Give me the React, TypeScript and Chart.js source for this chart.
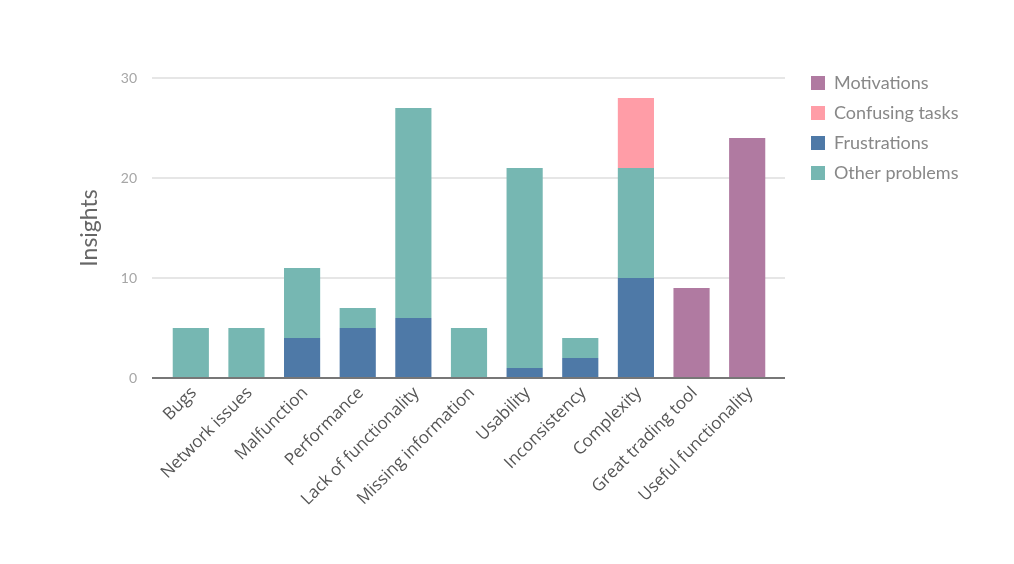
import React, { useEffect, useRef } from "react";
import { Chart, registerables } from "chart.js";

Chart.register(...registerables);

const categories = [
  "Bugs",
  "Network issues",
  "Malfunction",
  "Performance",
  "Lack of functionality",
  "Missing information",
  "Usability",
  "Inconsistency",
  "Complexity",
  "Great trading tool",
  "Useful functionality",
];

const frustrations = [0, 0, 4, 5, 6, 0, 1, 2, 10, 0, 0];
const otherProblems = [5, 5, 7, 2, 21, 5, 20, 2, 11, 0, 0];
const confusingTasks = [0, 0, 0, 0, 0, 0, 0, 0, 7, 0, 0];
const motivations = [0, 0, 0, 0, 0, 0, 0, 0, 0, 9, 24];

const legendOrder = ["Motivations", "Confusing tasks", "Frustrations", "Other problems"];
const yTicks = [0, 10, 20, 30];

const FONT = "Lato";

const extGridPlugin = {
  id: "extGrid",
  beforeLayout(chart: any) {
    const legend = chart.legend;
    if (legend && !legend.__patched) {
      const orig = legend.fit;
      legend.fit = function () {
        orig.call(this);
        this.width = 215;
      };
      legend.__patched = true;
    }
  },
  beforeDatasetsDraw(chart: any) {
    const { ctx, chartArea, scales } = chart;
    const y = scales.y;
    ctx.save();
    ctx.strokeStyle = "#e6e6e6";
    ctx.lineWidth = 2;
    y.ticks.forEach((t: any) => {
      if (t.value === 0) return;
      const py = y.getPixelForValue(t.value);
      ctx.beginPath();
      ctx.moveTo(chartArea.left - 11, py);
      ctx.lineTo(chartArea.right + 10, py);
      ctx.stroke();
    });
    ctx.restore();
  },
  afterDatasetsDraw(chart: any) {
    const { ctx, chartArea, scales } = chart;
    const py = scales.y.getPixelForValue(0);
    ctx.save();
    ctx.strokeStyle = "#777777";
    ctx.lineWidth = 2;
    ctx.beginPath();
    ctx.moveTo(chartArea.left - 11, py);
    ctx.lineTo(chartArea.right + 10, py);
    ctx.stroke();
    ctx.restore();
  },
};

export default function App() {
  const canvasRef = useRef<HTMLCanvasElement | null>(null);

  useEffect(() => {
    if (!canvasRef.current) return;
    const chart = new Chart(canvasRef.current, {
      type: "bar",
      data: {
        labels: categories,
        datasets: [
          { label: "Frustrations", data: frustrations, backgroundColor: "#4e79a7" },
          { label: "Other problems", data: otherProblems, backgroundColor: "#76b7b2" },
          { label: "Confusing tasks", data: confusingTasks, backgroundColor: "#ff9da7" },
          { label: "Motivations", data: motivations, backgroundColor: "#b07aa1" },
        ],
      },
      options: {
        responsive: false,
        animation: false,
        devicePixelRatio: 1,
        layout: { padding: { top: 62, left: 0, right: 0, bottom: 0 } },
        datasets: {
          bar: { barPercentage: 0.65, categoryPercentage: 1, borderWidth: 0 },
        },
        plugins: {
          tooltip: { enabled: false },
          legend: {
            position: "right",
            align: "start",
            labels: {
              boxWidth: 14,
              boxHeight: 14,
              padding: 12,
              color: "#888888",
              font: { family: FONT, size: 18 },
              sort: (a: any, b: any) => legendOrder.indexOf(a.text) - legendOrder.indexOf(b.text),
            },
          },
        },
        scales: {
          x: {
            stacked: true,
            grid: { display: false },
            border: { display: false },
            ticks: {
              autoSkip: false,
              maxRotation: 45,
              minRotation: 45,
              padding: -3,
              labelOffset: 3,
              color: "#555555",
              font: { family: "Open Sans", size: 17 },
            },
            afterFit: (s: any) => {
              s.height = 186;
            },
          },
          x2: {
            type: "category",
            position: "top",
            display: true,
            grid: { display: false },
            border: { display: false },
            ticks: { display: false },
            afterFit: (s: any) => {
              s.height = 16;
            },
          },
          y: {
            stacked: true,
            min: 0,
            max: 30,
            afterBuildTicks: (s: any) => {
              s.ticks = yTicks.map((v) => ({ value: v }));
            },
            grid: { display: false },
            border: { display: false },
            ticks: {
              padding: 18,
              color: "#a6a6a6",
              font: { family: FONT, size: 14 },
            },
            title: {
              display: true,
              text: "Insights",
              color: "#666666",
              font: { family: FONT, size: 23 },
              padding: { top: 76, bottom: 0 },
            },
            afterFit: (s: any) => {
              s.width = 163;
            },
          },
          y2: {
            type: "linear",
            position: "right",
            display: true,
            grid: { display: false },
            border: { display: false },
            ticks: { display: false },
            afterFit: (s: any) => {
              s.width = 24;
            },
          },
        },
      },
      plugins: [extGridPlugin],
    } as any);
    return () => chart.destroy();
  }, []);

  return (
    <div style={{ position: "fixed", left: 0, top: 0, width: 1014, height: 564, background: "#fff" }}>
      <canvas ref={canvasRef} width={1014} height={564} />
    </div>
  );
}
